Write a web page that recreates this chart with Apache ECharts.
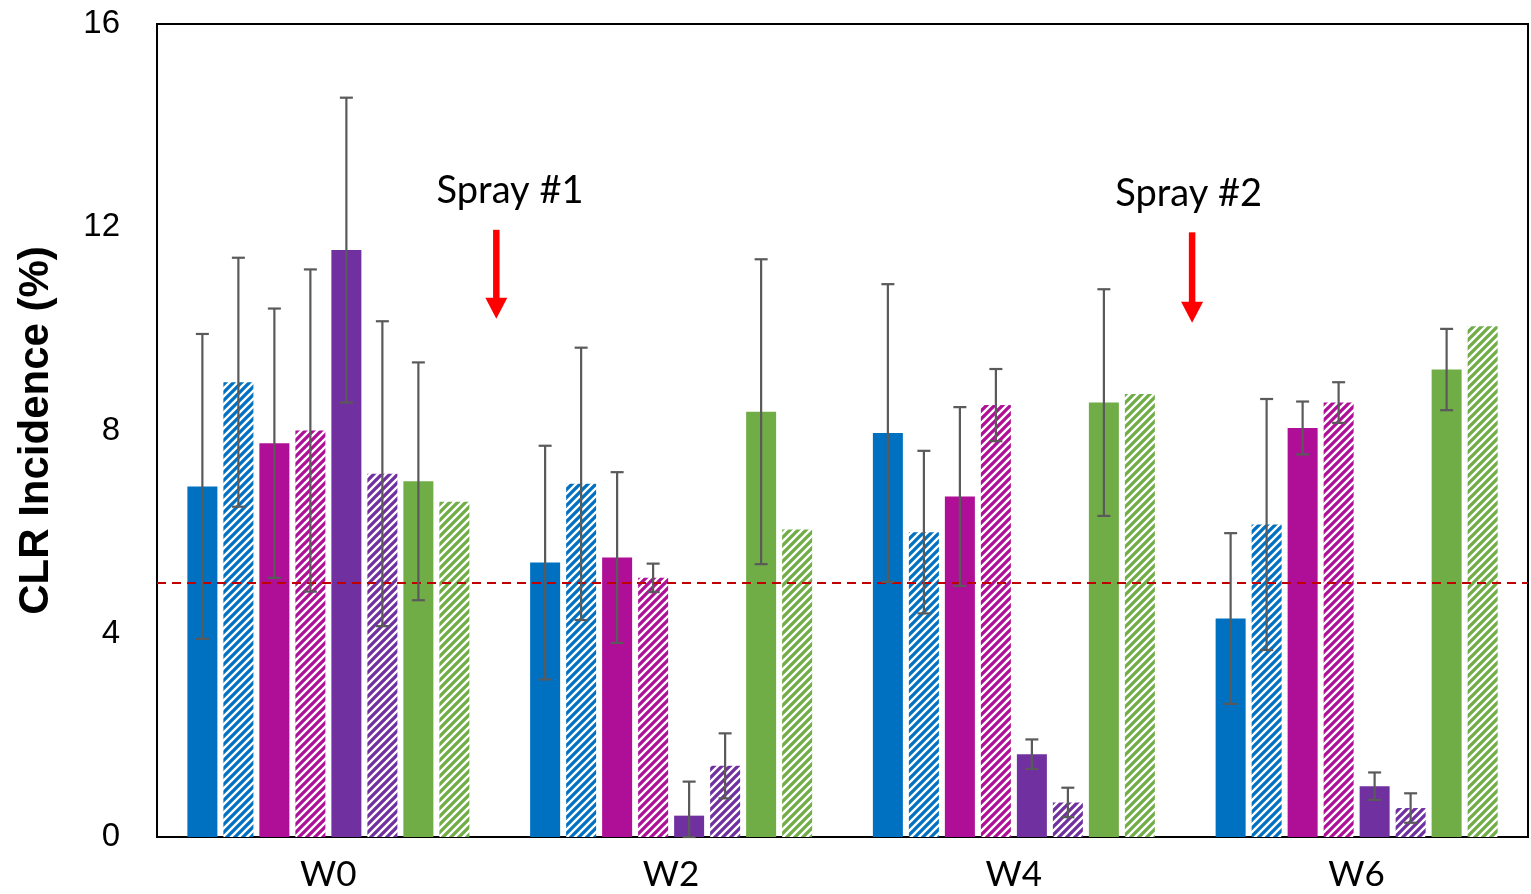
<!DOCTYPE html>
<html><head><meta charset="utf-8">
<script src="https://cdn.jsdelivr.net/npm/echarts@6/dist/echarts.min.js"></script>
<style>html,body{margin:0;padding:0;background:#fff}#c{width:1531px;height:894px}</style>
</head><body><div id="c"></div>
<script>
const categories = ['W0', 'W2', 'W4', 'W6'];
const yTicks = [0, 4, 8, 12, 16];

const blueSolid      = [6.9, 5.4, 7.95, 4.3];
const blueHatched    = [8.95, 6.95, 6.0, 6.15];
const magentaSolid   = [7.75, 5.5, 6.7, 8.05];
const magentaHatched = [8.0, 5.1, 8.5, 8.55];
const purpleSolid    = [11.55, 0.42, 1.63, 1.0];
const purpleHatched  = [7.15, 1.4, 0.68, 0.57];
const greenSolid     = [7.0, 8.37, 8.55, 9.2];
const greenHatched   = [6.6, 6.05, 8.72, 10.05];

const blueSolidErr      = [3.0, 2.3, 2.93, 1.68];
const blueHatchedErr    = [2.45, 2.68, 1.6, 2.47];
const magentaSolidErr   = [2.65, 1.68, 1.76, 0.52];
const magentaHatchedErr = [3.17, 0.28, 0.71, 0.4];
const purpleSolidErr    = [3.0, 0.67, 0.29, 0.27];
const purpleHatchedErr  = [3.0, 0.64, 0.29, 0.29];
const greenSolidErr     = [2.34, 3.0, 2.23, 0.8];
const greenHatchedErr   = [null, null, null, null];

const threshold = 5;
const sprayLabels = ['Spray #1', 'Spray #2'];
const sprayX = [0.49, 2.52];
const sprayTextX = [0.53, 2.51];
const sprayArrowTop = [11.95, 11.9];
const sprayArrowTip = [10.2, 10.12];
const sprayTextY = [12.72, 12.65];

const BAR_W = 30, BAR_GAP = 0.2;
const colors = {blue: '#0070C0', magenta: '#AF0E96', purple: '#7030A0', green: '#70AD47'};

function makeHatch(color) {
  const s = 8;
  const cv = document.createElement('canvas');
  cv.width = s; cv.height = s;
  const ctx = cv.getContext('2d');
  ctx.fillStyle = '#fff';
  ctx.fillRect(0, 0, s, s);
  ctx.strokeStyle = color;
  ctx.lineWidth = 3.3;
  ctx.beginPath();
  for (const o of [-s, 0, s]) { ctx.moveTo(o - 1, s + 1); ctx.lineTo(o + s + 1, -1); }
  ctx.stroke();
  return {image: cv, repeat: 'repeat'};
}

const defs = [
  {vals: blueSolid, err: blueSolidErr, color: colors.blue, hatch: false},
  {vals: blueHatched, err: blueHatchedErr, color: colors.blue, hatch: true},
  {vals: magentaSolid, err: magentaSolidErr, color: colors.magenta, hatch: false},
  {vals: magentaHatched, err: magentaHatchedErr, color: colors.magenta, hatch: true},
  {vals: purpleSolid, err: purpleSolidErr, color: colors.purple, hatch: false},
  {vals: purpleHatched, err: purpleHatchedErr, color: colors.purple, hatch: true},
  {vals: greenSolid, err: greenSolidErr, color: colors.green, hatch: false},
  {vals: greenHatched, err: greenHatchedErr, color: colors.green, hatch: true}
];

const series = defs.map((d, k) => ({
  type: 'bar', xAxisIndex: 0, yAxisIndex: 0,
  barWidth: BAR_W, barGap: (BAR_GAP * 100) + '%',
  data: d.vals,
  itemStyle: {color: d.hatch ? makeHatch(d.color) : d.color},
  z: 2
}));

const errData = [];
defs.forEach((d, k) => d.vals.forEach((v, c) => {
  if (d.err[c] != null) errData.push([c, k, v, d.err[c]]);
}));

series.push({
  type: 'custom', xAxisIndex: 0, yAxisIndex: 0, z: 5,
  encode: {x: 0, y: 2},
  data: errData,
  renderItem: function (params, api) {
    const c = api.value(0), k = api.value(1), v = api.value(2), e = api.value(3);
    const n = defs.length;
    const dx = (k - (n - 1) / 2) * BAR_W * (1 + BAR_GAP);
    const t = api.coord([c, v + e]);
    const b = api.coord([c, Math.max(0, v - e)]);
    const x = t[0] + dx, cap = 6.5;
    const st = {stroke: '#5A5A5A', lineWidth: 2.2};
    return {type: 'group', children: [
      {type: 'line', shape: {x1: x, y1: t[1], x2: x, y2: b[1]}, style: st},
      {type: 'line', shape: {x1: x - cap, y1: t[1], x2: x + cap, y2: t[1]}, style: st},
      {type: 'line', shape: {x1: x - cap, y1: b[1], x2: x + cap, y2: b[1]}, style: st}
    ]};
  }
});

series.push({
  type: 'custom', xAxisIndex: 1, yAxisIndex: 0, z: 6,
  encode: {x: 0, y: 1},
  data: sprayX.map((x, i) => [x, sprayArrowTop[i], sprayArrowTip[i], sprayTextX[i], sprayTextY[i], i]),
  renderItem: function (params, api) {
    const x0 = api.value(0), top = api.value(1), tip = api.value(2), tx = api.value(3), ty = api.value(4), i = api.value(5);
    const pTop = api.coord([x0, top]);
    const pTip = api.coord([x0, tip]);
    const pTxt = api.coord([tx, ty]);
    const hw = 11, hh = 21, sw = 6.5;
    const x = pTop[0];
    return {type: 'group', children: [
      {type: 'rect', shape: {x: x - sw / 2, y: pTop[1], width: sw, height: pTip[1] - hh - pTop[1] + 1}, style: {fill: '#FF0000'}},
      {type: 'polygon', shape: {points: [[x - hw, pTip[1] - hh], [x + hw, pTip[1] - hh], [x, pTip[1]]]}, style: {fill: '#FF0000'}},
      {type: 'text', style: {text: sprayLabels[i], x: pTxt[0], y: pTxt[1], fill: '#000', font: '38px Lato', align: 'center', verticalAlign: 'middle'}}
    ]};
  },
  markLine: {
    silent: true, symbol: ['none', 'none'], animation: false,
    label: {show: false},
    lineStyle: {color: '#C00000', type: [9, 6], width: 2},
    data: [{yAxis: threshold}]
  }
});

const chart = echarts.init(document.getElementById('c'));
chart.setOption({
  animation: false,
  backgroundColor: '#fff',
  grid: {left: 157, right: 3, top: 24, bottom: 57, show: true, borderColor: '#000', borderWidth: 2, backgroundColor: 'transparent'},
  xAxis: [
    {type: 'category', data: categories,
     axisLine: {show: true, onZero: false, lineStyle: {color: '#000', width: 2}},
     axisTick: {show: false},
     axisLabel: {color: '#000', fontFamily: 'Lato', fontSize: 35, margin: 20}},
    {type: 'value', min: -0.5, max: 3.5, show: false, axisLine: {show: false, onZero: false}}
  ],
  yAxis: {
    type: 'value', min: yTicks[0], max: yTicks[yTicks.length - 1], interval: yTicks[1] - yTicks[0],
    axisLine: {show: true, onZero: false, lineStyle: {color: '#000', width: 2}},
    axisTick: {show: false},
    splitLine: {show: false},
    axisLabel: {color: '#000', fontFamily: 'Liberation Sans, Arial', fontSize: 33, margin: 37},
    name: 'CLR Incidence (%)', nameLocation: 'middle', nameRotate: 90, nameGap: 100,
    nameTextStyle: {color: '#000', fontFamily: 'Liberation Sans, Arial', fontWeight: 'bold', fontSize: 42}
  },
  series: series
});
</script>
</body></html>
